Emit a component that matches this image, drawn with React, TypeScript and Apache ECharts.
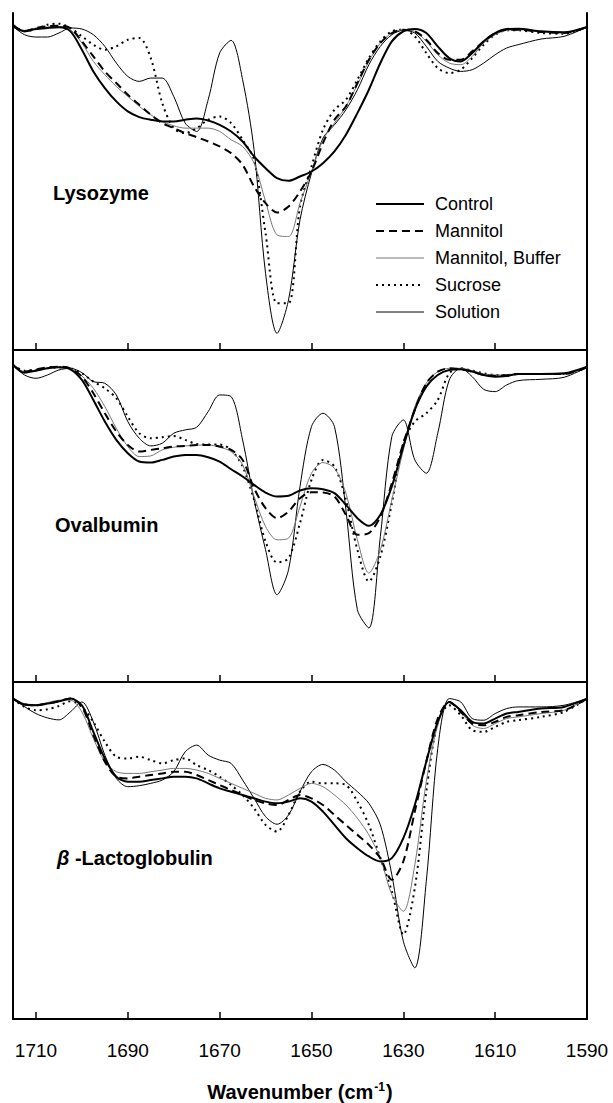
import React, { useEffect, useRef } from 'react';
import * as echarts from 'echarts';

// Wavenumber grid (cm^-1), shared by every spectrum
const wavenumbers = [1715, 1712.5, 1710, 1707.5, 1705, 1702.5, 1700, 1697.5, 1695, 1692.5, 1690, 1687.5, 1685, 1682.5, 1680, 1677.5, 1675, 1672.5, 1670, 1667.5, 1665, 1662.5, 1660, 1657.5, 1655, 1652.5, 1650, 1647.5, 1645, 1642.5, 1640, 1637.5, 1635, 1632.5, 1630, 1627.5, 1625, 1622.5, 1620, 1617.5, 1615, 1612.5, 1610, 1607.5, 1605, 1600, 1595, 1590];
const tickValues = [1710, 1690, 1670, 1650, 1630, 1610, 1590];
const seriesNames = ['Control', 'Mannitol', 'Mannitol, Buffer', 'Sucrose', 'Solution'];
const panelLabels = ['Lysozyme', 'Ovalbumin', '{i|β}{n| -Lactoglobulin}'];

// Lysozyme (second-derivative intensity, arbitrary units)
const lysControl = [-3.5, -5.5, -4.8, -4.5, -4.3, -5.5, -11, -17.5, -22.5, -26.5, -29.5, -31.2, -32, -32.5, -32.5, -32, -31.6, -32.2, -33.5, -35.5, -38.5, -43, -46.5, -49.5, -50.3, -49, -47.5, -45, -41.5, -36.5, -30, -23, -15, -8.5, -5.5, -4.8, -6, -10, -13.5, -14.5, -12, -8.5, -6, -4.8, -4.7, -5.5, -5.8, -4.2];
const lysMannitol = [-4, -5.5, -4.5, -4, -3.8, -4.5, -8.5, -13, -17.5, -21, -24.5, -27.5, -30.5, -33, -34.5, -36, -37.2, -38.5, -40, -42, -45.5, -52, -57, -59.8, -58, -53.5, -47.5, -39, -32, -28, -21, -14, -9, -6, -5, -5.5, -8, -12, -14, -14, -11.5, -8.5, -6, -5, -5, -5.7, -6, -4.2];
const lysMannitolBuffer = [-3.8, -5.2, -4.5, -4.2, -4, -5, -9, -14.5, -18.5, -22, -25, -28, -30.5, -32.5, -33.8, -34.5, -34.5, -34.5, -35.5, -38, -40, -45, -56.5, -66.5, -67, -57, -47.5, -38, -33, -28, -21.5, -14.5, -9, -6, -5, -5.5, -8.5, -12.5, -15, -15.5, -13, -9, -6.5, -5.2, -5, -5.7, -6, -4.2];
const lysSucrose = [-3.8, -5.5, -4.8, -3.5, -3.2, -4.5, -7, -9.5, -11, -10, -8, -7.5, -13.5, -27, -34.5, -36, -34.5, -32, -31, -33, -38, -44, -66, -87, -87, -58, -46, -35, -29, -26, -20, -13.5, -8.5, -5.5, -5, -7, -12, -16.5, -18, -17, -13.5, -9.5, -6.5, -5.2, -5.2, -6, -6.2, -4.2];
const lysSolution = [-4, -6.5, -7.2, -7.2, -6, -4.5, -4.8, -6.5, -10, -15, -19, -20.5, -19.5, -19.5, -25, -33, -35.5, -26, -12, -8.2, -20, -41, -78, -96, -86, -62, -48, -37.5, -33.5, -29, -23, -15.5, -10, -6.5, -5.2, -6, -10, -14.5, -16.5, -17.5, -17, -15, -12.5, -10.5, -9.5, -7.8, -7, -4.2];

// Ovalbumin
const ovControl = [-4.5, -6.8, -6.2, -5.5, -5.2, -5.8, -9, -15, -21.5, -27, -31, -33.5, -33.8, -33, -32, -31.5, -31.5, -32.2, -33.5, -35.8, -38, -40.5, -42.8, -44, -43.8, -42.2, -41.5, -41.8, -43, -46.5, -50.5, -52.8, -49.5, -41, -29, -18, -11, -7.5, -6, -5.8, -6.5, -7.5, -8, -7.8, -7.2, -7.2, -7, -5];
const ovMannitol = [-4.5, -6.5, -5.8, -5.2, -5, -5.5, -8, -13, -19, -24.5, -28.5, -30.5, -30, -29.5, -29, -28.8, -28.5, -28.5, -29, -30, -33, -41.5, -47.5, -50.5, -48.5, -44.5, -42.7, -42.8, -44, -49.5, -55.5, -55, -50, -40, -28, -18, -10, -6.5, -5.5, -5.8, -6.5, -7.5, -7.8, -7.6, -7.2, -7.2, -7.2, -5.2];
const ovMannitolBuffer = [-4.5, -6.5, -6, -5.5, -5.2, -5.6, -7.8, -11.5, -17, -23.5, -29, -32, -31.8, -30, -29.2, -28.8, -28.6, -28.5, -29.2, -30.5, -34.5, -44, -53, -57, -56.5, -47, -37, -33.8, -35.5, -43, -57, -67, -60, -45, -30, -17, -10, -6.5, -5.5, -5.5, -6.2, -7.2, -7.5, -7.5, -7.2, -7.2, -7.2, -5.2];
const ovSucrose = [-4.5, -6.2, -6, -5.5, -5.2, -5.5, -7, -9.5, -11.5, -14.5, -20, -25, -26.5, -26.2, -25.8, -27, -28.2, -28.4, -28.4, -30, -35, -45, -57.5, -63.8, -62.5, -52, -39, -33, -35, -45, -60, -69.5, -62, -46, -28, -21.5, -19, -15, -7, -5.5, -6.2, -7, -7.5, -7.5, -7.2, -7.2, -7.2, -5.2];
const ovSolution = [-4.5, -7.5, -8.5, -7.5, -6, -5.5, -6.8, -9.5, -10, -13.5, -21.5, -26.5, -28.8, -28, -25, -24, -23.2, -18.5, -13.5, -14, -27, -45, -60, -73.5, -66, -41, -23, -19, -23, -48, -78, -83.5, -56, -26, -21, -33, -37, -25, -9, -5.5, -8, -11.8, -12.5, -10.5, -9.2, -8.8, -8.2, -5.2];

// beta-Lactoglobulin
const lacControl = [-5, -6.8, -7, -6.5, -5.8, -5, -7, -15, -23, -28.5, -30, -30, -29.5, -29, -28.5, -28.5, -29, -30.5, -32, -33, -34, -35, -36, -36.5, -36, -35, -36, -39, -43, -47, -50, -52.5, -54, -53, -47, -37, -24, -12, -6, -8.5, -12, -12.5, -11, -9.5, -9, -8, -7.5, -5];
const lacMannitol = [-5, -6.8, -7, -6.5, -5.8, -5, -7.5, -16, -24, -28.5, -29, -28.5, -28, -27.5, -27, -27, -28, -29.5, -31, -32.5, -34, -35.5, -36.5, -37, -35.5, -34, -35, -37, -40, -43, -46, -49, -53, -59.5, -54, -39, -24, -11, -6, -9, -12.5, -13, -12, -10.5, -10, -9, -8.5, -5];
const lacMannitolBuffer = [-5, -6.5, -6.8, -6.2, -5.5, -5.5, -9, -17, -24, -27, -27.5, -27.5, -27, -26.5, -26, -26, -26.5, -27.5, -29, -30.5, -32, -33.5, -35, -35.5, -34, -32, -30.5, -31.5, -34, -37, -41, -46, -53, -64, -69, -55, -30, -13, -6, -9, -13, -14, -12.5, -11, -10.5, -9.5, -8.5, -5];
const lacSucrose = [-5, -7.5, -8.5, -8.2, -7.2, -5.8, -7.5, -12, -18, -22.5, -23, -22.5, -23.5, -24.5, -23.5, -23, -25, -26.5, -28.5, -31, -34, -38, -43, -45, -40, -33, -30, -30.5, -30.5, -31, -36, -43, -53, -63, -76, -62, -33, -12, -7, -10, -14.5, -15, -13.5, -12, -11.5, -10.5, -9, -5];
const lacSolution = [-5, -7.4, -9.5, -10.8, -11.4, -9, -6, -12, -22, -29, -31.5, -31.2, -30.5, -29.5, -27, -21, -19, -22, -23.5, -24.5, -29.5, -35, -40.5, -42.8, -40, -33, -27, -24.8, -26.5, -30, -33, -36.5, -43, -58, -78, -86, -60, -20, -5, -6, -11, -11.5, -9.5, -8, -7.5, -7.5, -7, -5];

const FONT = 'Liberation Sans, Arial, Helvetica, sans-serif';

const lineStyles: any[] = [
  { color: '#000', width: 2, type: 'solid' },
  { color: '#000', width: 2, type: [8, 5] },
  { color: '#777', width: 1, type: 'solid' },
  { color: '#000', width: 2, type: [2, 4] },
  { color: '#000', width: 1, type: 'solid' },
];

const panels = [
  { top: 13, height: 337, min: -101, sets: [lysControl, lysMannitol, lysMannitolBuffer, lysSucrose, lysSolution] },
  { top: 350, height: 332, min: -99.7, sets: [ovControl, ovMannitol, ovMannitolBuffer, ovSucrose, ovSolution] },
  { top: 682, height: 338, min: -101.4, sets: [lacControl, lacMannitol, lacMannitolBuffer, lacSucrose, lacSolution] },
];
const labelTops = [183, 515, 848];
const labelLefts = [53, 55, 57];

export default function App() {
  const ref = useRef<HTMLDivElement>(null);
  useEffect(() => {
    document.body.style.margin = '0';
    const chart = echarts.init(ref.current as HTMLDivElement, undefined, { renderer: 'svg' });
    const grid = panels.map((p) => ({ left: 13, width: 574, top: p.top, height: p.height }));
    const xAxis = panels.map((p, i) => ({
      gridIndex: i,
      type: 'value',
      min: 1590,
      max: 1715,
      inverse: true,
      axisLine: { show: true, onZero: false, lineStyle: { color: '#000', width: 2 } },
      axisTick: { show: true, inside: true, length: 7, customValues: tickValues, lineStyle: { color: '#000', width: 1.5 } },
      axisLabel: {
        show: i === 2,
        customValues: tickValues,
        formatter: (v: number) => String(v),
        margin: 22,
        fontSize: 19,
        color: '#000',
        fontFamily: FONT,
      },
      splitLine: { show: false },
      name: i === 2 ? '{b|Wavenumber (cm}{s|-1}{b|)}' : '',
      nameLocation: 'middle',
      nameGap: 62,
      nameTextStyle: {
        rich: {
          b: { fontSize: 20, fontWeight: 'bold', fontFamily: FONT, color: '#000', lineHeight: 22 },
          s: { fontSize: 12, fontWeight: 'bold', fontFamily: FONT, color: '#000', verticalAlign: 'top', lineHeight: 22, padding: [0, 1, 8, 1] },
        },
      },
    }));
    const yAxis: any[] = [];
    panels.forEach((p, i) => {
      yAxis.push({
        gridIndex: i, type: 'value', min: p.min, max: 0, position: 'left',
        axisLine: { show: true, onZero: false, lineStyle: { color: '#000', width: 2 } },
        axisTick: { show: false }, axisLabel: { show: false }, splitLine: { show: false },
      });
      yAxis.push({
        gridIndex: i, type: 'value', min: 0, max: 1, position: 'right',
        axisLine: { show: true, onZero: false, lineStyle: { color: '#000', width: 2 } },
        axisTick: { show: false }, axisLabel: { show: false }, splitLine: { show: false },
      });
    });
    const series: any[] = [];
    panels.forEach((p, i) => {
      p.sets.forEach((arr, k) => {
        series.push({
          type: 'line',
          name: seriesNames[k],
          xAxisIndex: i,
          yAxisIndex: i * 2,
          data: wavenumbers.map((w, j) => [w, arr[j]]),
          symbol: 'none',
          showSymbol: false,
          smooth: 0.3,
          color: lineStyles[k].color,
          lineStyle: lineStyles[k],
          silent: true,
          z: 5 - k,
        });
      });
    });
    const title = panelLabels.map((t, i) => ({
      text: t,
      left: labelLefts[i],
      top: labelTops[i],
      padding: 0,
      textStyle: {
        fontSize: 20,
        fontWeight: 'bold',
        fontFamily: FONT,
        color: '#000',
        rich: {
          i: { fontSize: 20, fontWeight: 'bold', fontStyle: 'italic', fontFamily: FONT, color: '#000' },
          n: { fontSize: 20, fontWeight: 'bold', fontFamily: FONT, color: '#000' },
        },
      },
    }));
    chart.setOption({
      animation: false,
      backgroundColor: '#fff',
      title,
      legend: {
        show: true,
        orient: 'vertical',
        left: 370,
        top: 190,
        itemWidth: 48,
        itemHeight: 14,
        itemGap: 9,
        selectedMode: false,
        itemStyle: { opacity: 0 },
        data: seriesNames.map((n, k) => ({ name: n, itemStyle: { opacity: 0 }, lineStyle: { ...lineStyles[k] } })),
        textStyle: { fontSize: 18, color: '#000', fontFamily: FONT, padding: [0, 0, 0, 6] },
      },
      grid,
      xAxis,
      yAxis,
      series,
    });
    return () => chart.dispose();
  }, []);
  return <div ref={ref} style={{ position: 'absolute', left: 0, top: 0, width: 613, height: 1103 }} />;
}
